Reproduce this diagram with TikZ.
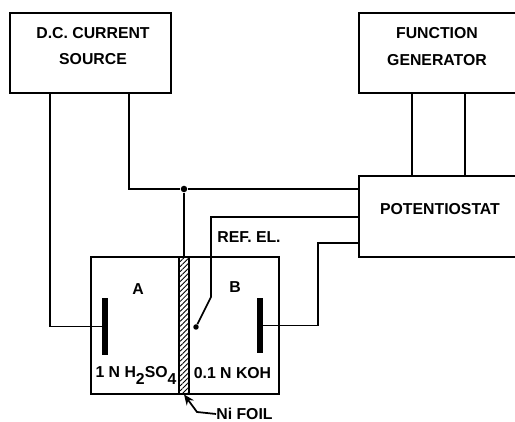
\documentclass[tikz,border=0pt]{standalone}
\usepackage{fontspec}
\setmainfont{Liberation Sans}
\usetikzlibrary{patterns.meta,arrows.meta}
\newcommand{\lowdigit}[1]{\raisebox{-3.5pt}{#1}}
\tikzset{
	wire/.style={line width=1pt,line join=miter},
	box/.style={draw,line width=1pt,inner sep=0pt},
	lab/.style={inner sep=0pt,align=center,font=\fontsize{9}{15}\selectfont\bfseries},
	plate/.style={draw=none,fill=black,inner sep=0pt,minimum width=0.11cm},
	junction/.style={circle,fill=black,inner sep=0pt,minimum size=0.13cm}
}
\begin{document}
\begin{tikzpicture}[x=0.02cm,y=-0.02cm]
	\clip[use as bounding box] (0,0) rectangle (515,422);
	\node[box,minimum width=3.22cm,minimum height=1.6cm] (dc) at (90.5,53) {};
	\node[box,minimum width=3.22cm,minimum height=1.6cm] (fg) at (439.5,53) {};
	\node[box,minimum width=3.22cm,minimum height=1.62cm] (pot) at (439.5,216.5) {};
	\node[box,minimum width=3.76cm,minimum height=2.74cm] (cell) at (185,325.5) {};
	\node[draw,line width=1.3pt,inner sep=0pt,minimum width=0.2cm,minimum height=2.74cm,pattern={Lines[angle=45,distance=2pt,line width=0.5pt]}] (foil) at (184,325.5) {};
	\node[plate,minimum height=1.14cm] (anode) at (105,326.5) {};
	\node[plate,minimum height=1.1cm] (cathode) at (260,325.5) {};
	\node[junction] (jun) at (184,189) {};
	\node[junction,minimum size=0.11cm] (refend) at (196,327) {};
	\node[lab] (dctext) at (93,46) {D.C. CURRENT\\SOURCE};
	\node[lab] (fgtext) at (437,46.5) {FUNCTION\\GENERATOR};
	\node[lab] (pottext) at (440,209) {POTENTIOSTAT};
	\node[lab] (a) at (138,289) {A};
	\node[lab] (b) at (235,287) {B};
	\node[lab] (acid) at (136,375.5) {1 N H\lowdigit{2}SO\lowdigit{4}};
	\node[lab] (base) at (232.5,373) {0.1 N KOH};
	\node[lab] (ref) at (249,237) {REF. EL.};
	\node[lab] (ni) at (244.5,414) {Ni FOIL};
	\coordinate (dcl) at (50,93);
	\coordinate (dcr) at (129,93);
	\coordinate (fgl) at (412,93);
	\coordinate (fgr) at (465,93);
	\coordinate (refin) at (358,217);
	\coordinate (refdn) at (211,297);
	\coordinate (catin) at (358,243);
	\coordinate (nibend) at (197,412);
	\draw[wire] (dcl) |- (anode.west);
	\draw[wire] (dcr) |- (jun) -- (jun -| pot.west);
	\draw[wire] (jun) -- (foil.north);
	\draw[wire] (fgl) -- (fgl |- pot.north);
	\draw[wire] (fgr) -- (fgr |- pot.north);
	\draw[wire] (refin) -| (refdn) -- (refend);
	\draw[wire] (catin) -| (318,325.5) -- (cathode.east);
	\draw[wire,-{Stealth[length=6pt,width=5pt]}] (ni.west) -- (nibend) -- (foil.south);
\end{tikzpicture}
\end{document}
